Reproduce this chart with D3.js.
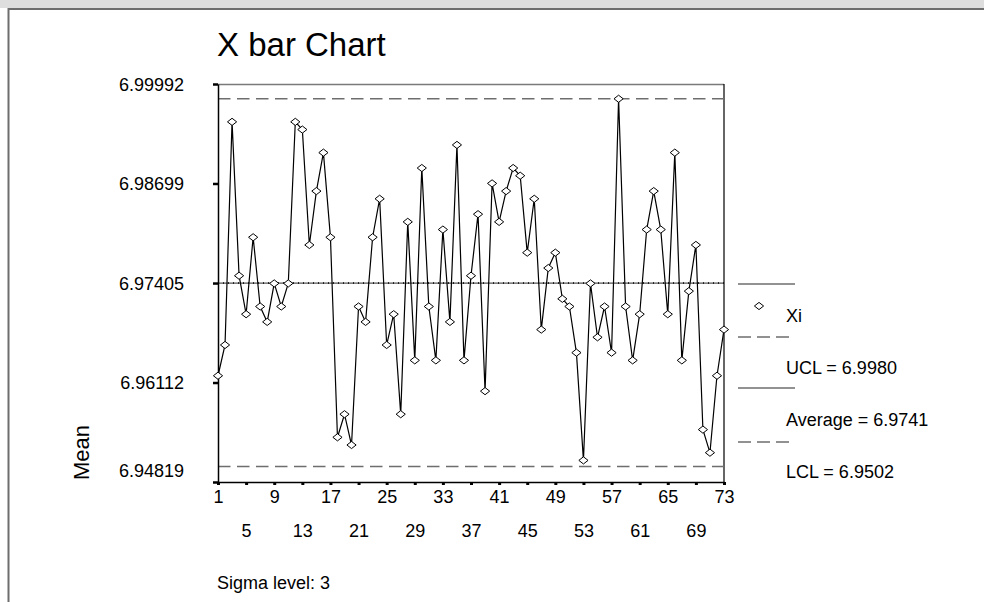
<!DOCTYPE html>
<html>
<head>
<meta charset="utf-8">
<script src="https://cdn.jsdelivr.net/npm/d3@7"></script>
<style>
  body { margin: 0; background: #fff; }
  text { font-family: "Liberation Sans", Arial, sans-serif; fill: #000; }
</style>
</head>
<body>
<script>
// subgroup means, samples 1..73
var means = [
  6.962, 6.966, 6.995, 6.975, 6.970, 6.980, 6.971, 6.969, 6.974, 6.971,
  6.974, 6.995, 6.994, 6.979, 6.986, 6.991, 6.980, 6.954, 6.957, 6.953,
  6.971, 6.969, 6.980, 6.985, 6.966, 6.970, 6.957, 6.982, 6.964, 6.989,
  6.971, 6.964, 6.981, 6.969, 6.992, 6.964, 6.975, 6.983, 6.960, 6.987,
  6.982, 6.986, 6.989, 6.988, 6.978, 6.985, 6.968, 6.976, 6.978, 6.972,
  6.971, 6.965, 6.951, 6.974, 6.967, 6.971, 6.965, 6.998, 6.971, 6.964,
  6.970, 6.981, 6.986, 6.981, 6.970, 6.991, 6.964, 6.973, 6.979, 6.955,
  6.952, 6.962, 6.968
];
var samples = d3.range(1, means.length + 1);

var yTicks = [6.94819, 6.96112, 6.97405, 6.98699, 6.99992];
var xTicks = d3.range(1, 74, 4);

var ucl = 6.9980, average = 6.97405, lcl = 6.9502;
var legendLabels = ["Xi", "UCL = 6.9980", "Average = 6.9741", "LCL = 6.9502"];

// set the dimensions and margins of the graph
var margin = {top: 84, right: 260, bottom: 120, left: 218},
    width = 984 - margin.left - margin.right,
    height = 602 - margin.top - margin.bottom;

var svg = d3.select("body")
  .append("svg")
    .attr("width", 984)
    .attr("height", 602);

// page frame
svg.append("rect")
  .attr("x", 0).attr("y", 0).attr("width", 984).attr("height", 8)
  .attr("fill", "#dedede");
svg.append("path")
  .attr("d", "M8.5,602 V9 H984")
  .attr("fill", "none")
  .attr("stroke", "#6e6e6e")
  .attr("stroke-width", 2);

// title
svg.append("text")
  .attr("x", 217).attr("y", 56)
  .attr("font-size", 33)
  .text("X bar Chart");

var g = svg.append("g")
  .attr("transform", "translate(" + margin.left + "," + margin.top + ")");

var x = d3.scaleLinear().domain([1, 73]).range([0, width]);
var y = d3.scaleLinear().domain([yTicks[0], yTicks[yTicks.length - 1]]).range([height, 0]);

// plot frame: top grey, right black
g.append("line")
  .attr("x1", 0).attr("x2", width).attr("y1", 0.5).attr("y2", 0.5)
  .attr("stroke", "#7a7a7a").attr("stroke-width", 1.5);
g.append("line")
  .attr("x1", width).attr("x2", width).attr("y1", 0).attr("y2", height)
  .attr("stroke", "#000").attr("stroke-width", 1.2);

// control limits
[ucl, lcl].forEach(function(v) {
  g.append("line")
    .attr("x1", 0).attr("x2", width)
    .attr("y1", y(v)).attr("y2", y(v))
    .attr("stroke", "#6e6e6e")
    .attr("stroke-width", 1.4)
    .attr("stroke-dasharray", "12.5,6.5");
});

// centre line
g.append("line")
  .attr("x1", 0).attr("x2", width)
  .attr("y1", y(average)).attr("y2", y(average))
  .attr("stroke", "#555").attr("stroke-width", 1.2);
g.append("line")
  .attr("x1", 0).attr("x2", width)
  .attr("y1", y(average)).attr("y2", y(average))
  .attr("stroke", "#000").attr("stroke-width", 1.6)
  .attr("stroke-dasharray", "1,4");

// Y axis
var yAxis = g.append("g")
  .call(d3.axisLeft(y).tickValues(yTicks).tickSize(5).tickSizeOuter(0)
    .tickFormat(d3.format(".5f")).tickPadding(29));
yAxis.select(".domain").attr("stroke", "#000").attr("stroke-width", 1.5);
yAxis.selectAll(".tick line").attr("stroke-width", 2.5);
yAxis.selectAll(".tick text")
  .attr("font-size", 18)
  .attr("dy", function(d, i) { return i === 0 ? "-0.32em" : "0.35em"; })
  .style("font-family", "'Liberation Sans', Arial, sans-serif");

// X axis
var xAxis = g.append("g")
  .attr("transform", "translate(0," + height + ")")
  .call(d3.axisBottom(x).tickValues(xTicks).tickSize(3).tickSizeOuter(0).tickPadding(5));
xAxis.select(".domain").attr("stroke", "#000").attr("stroke-width", 1.5);
xAxis.selectAll(".tick line").attr("stroke-width", 3);
xAxis.selectAll(".tick text")
  .attr("font-size", 18)
  .attr("dy", function(d, i) { return i % 2 === 0 ? "0.71em" : "2.6em"; })
  .style("font-family", "'Liberation Sans', Arial, sans-serif");

// data line
g.append("path")
  .datum(means)
  .attr("fill", "none")
  .attr("stroke", "#000")
  .attr("stroke-width", 1.2)
  .attr("d", d3.line()
    .x(function(d, i) { return x(samples[i]); })
    .y(function(d) { return y(d); }));

var diamond = "M0,-3.6 L4.6,0 L0,3.6 L-4.6,0 Z";

g.selectAll(".pt")
  .data(means)
  .enter().append("path")
    .attr("class", "pt")
    .attr("transform", function(d, i) { return "translate(" + x(samples[i]) + "," + y(d) + ")"; })
    .attr("d", diamond)
    .attr("fill", "#fff")
    .attr("stroke", "#000")
    .attr("stroke-width", 1);

// axis title
svg.append("text")
  .attr("transform", "translate(89,480) rotate(-90)")
  .attr("font-size", 22)
  .text("Mean");

// legend
var lx = 738;
var legendRows = [
  {line: 284, dash: null, text: 322},
  {line: 337, dash: "13,6", text: 374},
  {line: 388, dash: null, text: 426},
  {line: 442, dash: "13,6", text: 478}
];
legendRows.forEach(function(r, i) {
  svg.append("line")
    .attr("x1", lx).attr("x2", r.dash ? lx + 52 : lx + 57)
    .attr("y1", r.line).attr("y2", r.line)
    .attr("stroke", "#6e6e6e").attr("stroke-width", 1.4)
    .attr("stroke-dasharray", r.dash);
  svg.append("text")
    .attr("x", 786).attr("y", r.text)
    .attr("font-size", 18)
    .text(legendLabels[i]);
});
svg.append("path")
  .attr("transform", "translate(759,306)")
  .attr("d", diamond)
  .attr("fill", "#fff")
  .attr("stroke", "#000");

// footnote
svg.append("text")
  .attr("x", 217).attr("y", 589)
  .attr("font-size", 18)
  .text("Sigma level: 3");
</script>
</body>
</html>
